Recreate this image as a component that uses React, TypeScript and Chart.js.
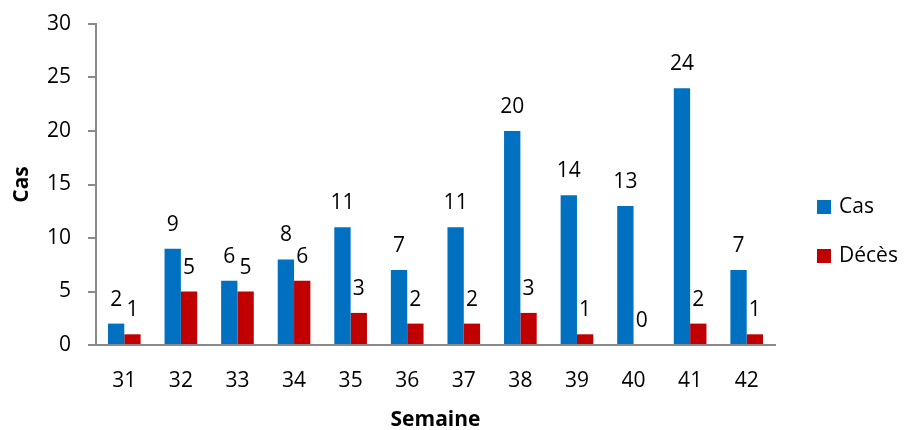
import React, { useEffect, useRef } from "react";
import { Chart, registerables } from "chart.js";

Chart.register(...registerables);

const categories = ["31", "32", "33", "34", "35", "36", "37", "38", "39", "40", "41", "42"];
const casValues = [2, 9, 6, 8, 11, 7, 11, 20, 14, 13, 24, 7];
const decesValues = [1, 5, 5, 6, 3, 2, 2, 3, 1, 0, 2, 1];
const seriesNames = ["Cas", "Décès"];
const seriesColors = ["#0070C0", "#C00000"];
const yTitle = "Cas";
const xTitle = "Semaine";

const FONT = "'Open Sans', 'Liberation Sans', sans-serif";
const FS = 21;
const AXIS_GRAY = "#8a8a8a";

const valueLabels = {
  id: "valueLabels",
  afterDatasetsDraw(chart: any) {
    const ctx = chart.ctx;
    ctx.save();
    ctx.font = `${FS}px ${FONT}`;
    ctx.fillStyle = "#000";
    ctx.textAlign = "center";
    ctx.textBaseline = "alphabetic";
    chart.data.datasets.forEach((ds: any, di: number) => {
      const meta = chart.getDatasetMeta(di);
      meta.data.forEach((bar: any, i: number) => {
        ctx.fillText(String(ds.data[i]), bar.x, bar.y - 18);
      });
    });
    ctx.restore();
  },
};

const sideLegend = {
  id: "sideLegend",
  afterDraw(chart: any) {
    const ctx = chart.ctx;
    const x = chart.chartArea.right + 42;
    const startY = 207;
    const gap = 49;
    ctx.save();
    ctx.font = `${FS}px ${FONT}`;
    ctx.textAlign = "left";
    ctx.textBaseline = "middle";
    chart.data.datasets.forEach((ds: any, i: number) => {
      const cy = startY + i * gap;
      ctx.fillStyle = ds.backgroundColor;
      ctx.fillRect(x, cy - 7, 14, 14);
      ctx.fillStyle = "#000";
      ctx.fillText(ds.label, x + 22, cy);
    });
    ctx.restore();
  },
};

export default function App() {
  const ref = useRef<HTMLCanvasElement | null>(null);

  useEffect(() => {
    document.body.style.margin = "0";
    const canvas = ref.current;
    if (!canvas) return;
    const chart = new Chart(canvas, {
      type: "bar",
      data: {
        labels: categories,
        datasets: [
          {
            label: seriesNames[0],
            data: casValues,
            backgroundColor: seriesColors[0],
            categoryPercentage: 0.577,
            barPercentage: 1,
          },
          {
            label: seriesNames[1],
            data: decesValues,
            backgroundColor: seriesColors[1],
            categoryPercentage: 0.577,
            barPercentage: 1,
          },
        ],
      },
      options: {
        animation: false,
        responsive: false,
        maintainAspectRatio: false,
        layout: { padding: { top: 24, right: 129, left: 0, bottom: 0 } },
        plugins: {
          legend: { display: false },
          tooltip: { enabled: false },
        },
        scales: {
          x: {
            grid: { display: false, drawTicks: false },
            border: { display: true, color: AXIS_GRAY, width: 2 },
            ticks: {
              font: { family: FONT, size: FS },
              color: "#000",
              padding: 23,
              maxRotation: 0,
            },
            title: {
              display: true,
              text: xTitle,
              font: { family: FONT, size: FS, weight: "bold" },
              color: "#000",
              padding: { top: 0, bottom: -3 },
            },
            afterFit(scale: any) {
              scale.height = 85;
            },
          },
          y: {
            min: 0,
            max: 30,
            ticks: {
              stepSize: 5,
              font: { family: FONT, size: FS },
              color: "#000",
              padding: 17,
            },
            grid: {
              display: true,
              drawOnChartArea: false,
              drawTicks: true,
              tickLength: 8,
              color: AXIS_GRAY,
              lineWidth: 2,
            },
            border: { display: true, color: AXIS_GRAY, width: 2 },
            title: {
              display: true,
              text: yTitle,
              font: { family: FONT, size: FS, weight: "bold" },
              color: "#000",
              padding: { top: 9, bottom: 0 },
            },
            afterFit(scale: any) {
              scale.width = 96;
              scale.paddingTop = 0;
            },
          },
        },
      },
      plugins: [valueLabels, sideLegend],
    });
    return () => chart.destroy();
  }, []);

  return (
    <div style={{ width: 904, height: 430 }}>
      <canvas ref={ref} width={904} height={430} style={{ display: "block" }} />
    </div>
  );
}
